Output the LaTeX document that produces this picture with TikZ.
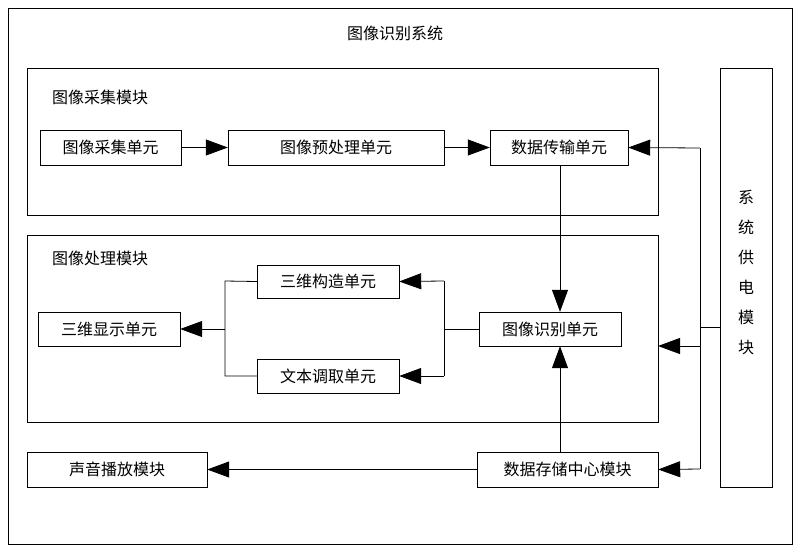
\documentclass[tikz,border=0pt]{standalone}
\usepackage{fontspec}
\setmainfont{Noto Sans CJK SC}
\usetikzlibrary{arrows.meta}
\begin{document}
\begin{tikzpicture}[x=1pt,y=-1pt,
  bx/.style={draw,line width=0.8pt,inner sep=0pt},
  lbl/.style={font=\fontsize{16}{18}\selectfont},
  ar/.style={-{Triangle[length=22pt,width=16pt]},line width=0.8pt},
  ln/.style={line width=0.8pt}]
\useasboundingbox (0,0) rectangle (800,552);
\draw[ln] (8,8) rectangle (792,544);
\node[lbl] (title) at (395,33) {图像识别系统};
\draw[ln] (27,68) rectangle (658,215);
\node[lbl] (m1) at (100,97) {图像采集模块};
\draw[ln] (27,235) rectangle (658,422);
\node[lbl] (m2) at (100,258) {图像处理模块};
\coordinate (m2r) at (658,346);
\newcommand{\ubox}[6]{\draw[ln] (#2,#3) rectangle (#4,#5); \node[lbl,minimum width=#4pt-#2pt,minimum height=#5pt-#3pt,inner sep=0pt] (#1) at ({(#2+#4)/2},{(#3+#5)/2}) {#6};}
\ubox{a}{40}{130}{181}{165}{图像采集单元}
\ubox{b}{228}{130}{444}{165}{图像预处理单元}
\ubox{c}{490}{130}{628}{165}{数据传输单元}
\ubox{d}{257}{265}{399}{298}{三维构造单元}
\ubox{e}{38}{312}{180}{346}{三维显示单元}
\ubox{f}{479}{312}{621}{346}{图像识别单元}
\ubox{g}{257}{359}{399}{393}{文本调取单元}
\ubox{h}{27}{452}{207}{487}{声音播放模块}
\ubox{i}{477}{452}{658}{487}{数据存储中心模块}
\draw[ln] (720,68) rectangle (772,487);
\node[lbl,align=center,font=\fontsize{16}{30}\selectfont] (p) at (746,272) {系\\统\\供\\电\\模\\块};
\coordinate (pl) at (720,327);
\coordinate (x1) at (560,0);
\draw[ar] (a) -- (b);
\draw[ar] (b) -- (c);
\draw[ln] (pl) -- (700,327);
\draw[ln] (700,148) -- (700,469);
\draw[ar] (700,148) -- (c.east);
\draw[ar] (700,346) -- (m2r);
\draw[ar] (700,469) -- (i.east);
\draw[ar] (c.south -| x1) -- (f.north -| x1);
\draw[ar] (i.north -| x1) -- (f.south -| x1);
\draw[ln] (f.west) -- (444,329);
\draw[ln] (444,281) -- (444,376);
\draw[ar] (444,281) -- (d.east);
\draw[ar] (444,376) -- (g.east);
\draw[ln] (d.west) -- (225,281) -- (225,376) -- (g.west);
\draw[ar] (225,329) -- (e.east);
\draw[ar] (i.west) -- (h.east);
\end{tikzpicture}
\end{document}
